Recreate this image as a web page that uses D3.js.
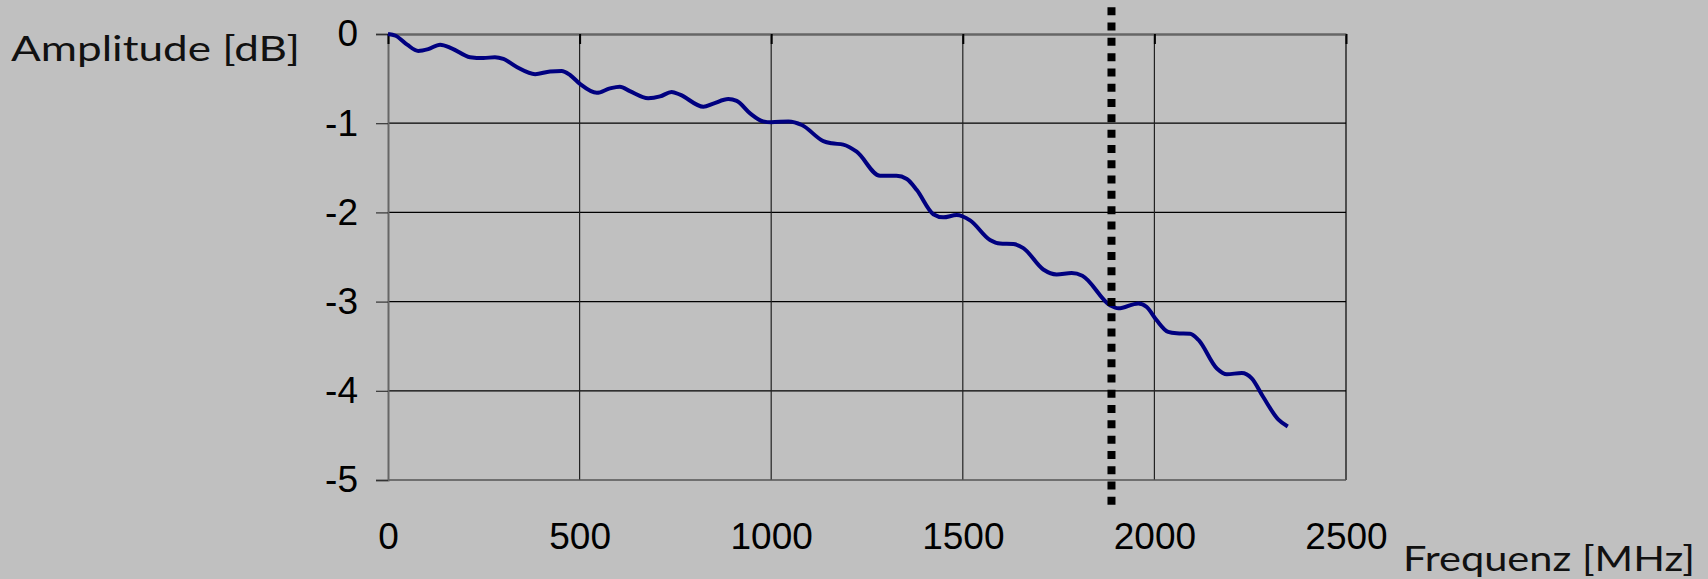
<!DOCTYPE html>
<html>
<head>
<meta charset="utf-8">
<script src="https://cdn.jsdelivr.net/npm/d3@7"></script>
<style>
  html, body { margin: 0; padding: 0; background: #c0c0c0; }
  svg { display: block; }
  .tick text { font-family: "Liberation Sans", Arial, sans-serif; font-size: 37px; fill: #000; }
  .title { font-family: "Lato", "DejaVu Sans", sans-serif; font-size: 35px; fill: #111; }
</style>
</head>
<body>
<svg id="chart" width="1708" height="579"></svg>
<script>
var freq = [0, 20, 50, 79, 105, 136, 166, 214, 249, 279, 301, 336, 384, 423, 453, 475,
            501, 545, 579, 605, 631, 679, 710, 740, 762, 823, 849, 888, 910, 945, 979,
            1000, 1045, 1080, 1136, 1158, 1188, 1223, 1284, 1327, 1354, 1380, 1423, 1449,
            1484, 1519, 1571, 1597, 1632, 1658, 1710, 1745, 1784, 1812, 1884, 1906, 1958,
            1980, 2006, 2036, 2058, 2093, 2115, 2163, 2189, 2228, 2254, 2284, 2323, 2348];
var amp = [0, -0.02, -0.12, -0.19, -0.17, -0.12, -0.16, -0.26, -0.27, -0.26, -0.28, -0.37,
           -0.45, -0.42, -0.415, -0.46, -0.56, -0.66, -0.61, -0.59, -0.64, -0.72, -0.70,
           -0.65, -0.68, -0.815, -0.78, -0.73, -0.75, -0.89, -0.98, -0.99, -0.98, -1.02,
           -1.20, -1.225, -1.24, -1.32, -1.59, -1.59, -1.625, -1.75, -2.02, -2.055, -2.03,
           -2.09, -2.31, -2.35, -2.355, -2.40, -2.64, -2.695, -2.68, -2.71, -3.04, -3.075,
           -3.02, -3.06, -3.21, -3.34, -3.355, -3.36, -3.43, -3.75, -3.815, -3.80, -3.86,
           -4.07, -4.32, -4.40];
var xTicks = [0, 500, 1000, 1500, 2000, 2500];
var yTicks = [0, -1, -2, -3, -4, -5];
var markerFreq = 1888;
var markerRange = [0.3, -5.3];

var svg = d3.select("#chart"),
    margin = {top: 34, right: 362, bottom: 99, left: 388},
    width = svg.attr("width") - margin.left - margin.right,
    height = svg.attr("height") - margin.top - margin.bottom;

var x = d3.scaleLinear().domain([0, 2500]).range([0, width]),
    y = d3.scaleLinear().domain([-5, 0]).range([height, 0]);

var g = svg.append("g")
    .attr("transform", "translate(" + margin.left + "," + margin.top + ")");

// horizontal grid
g.append("g")
  .selectAll("line")
  .data(yTicks.slice(1, 5))
  .enter().append("line")
    .attr("x1", 0).attr("x2", width)
    .attr("y1", function(d) { return y(d); })
    .attr("y2", function(d) { return y(d); })
    .attr("stroke", "#000").attr("stroke-width", 1.2);

// vertical grid
g.append("g")
  .selectAll("line")
  .data(xTicks.slice(1, 5))
  .enter().append("line")
    .attr("x1", function(d) { return x(d); })
    .attr("x2", function(d) { return x(d); })
    .attr("y1", 0).attr("y2", height)
    .attr("stroke", "#222").attr("stroke-width", 1.2);

// plot frame
g.append("line").attr("x1", width).attr("x2", width).attr("y1", 0).attr("y2", height)
  .attr("stroke", "#000").attr("stroke-width", 1.2);
g.append("line").attr("x1", 0).attr("x2", width).attr("y1", height).attr("y2", height)
  .attr("stroke", "#555").attr("stroke-width", 1.5);

// y axis
var yAxis = g.append("g")
    .call(d3.axisLeft(y).tickValues(yTicks).tickSize(12).tickPadding(18)
      .tickFormat(function(d) { return d === 0 ? "0" : "-" + Math.abs(d); }));
yAxis.select(".domain").attr("stroke", "#666").attr("stroke-width", 2);
yAxis.selectAll(".tick line").attr("stroke", "#333").attr("stroke-width", 1.2);

// x axis sits at 0 dB (top), labels at the bottom
var xAxis = g.append("g")
    .call(d3.axisBottom(x).tickValues(xTicks).tickSize(10).tickSizeOuter(0).tickFormat(""));
xAxis.select(".domain").attr("stroke", "#666").attr("stroke-width", 2.5);
xAxis.selectAll(".tick line").attr("stroke", "#000").attr("stroke-width", 2);

var xLab = g.append("g")
    .attr("transform", "translate(0," + height + ")")
    .call(d3.axisBottom(x).tickValues(xTicks).tickSize(0).tickPadding(43)
      .tickFormat(d3.format("d")));
xLab.select(".domain").remove();

// response curve
var pts = freq.map(function(f, i) { return [f, amp[i]]; });
var line = d3.line()
    .x(function(d) { return x(d[0]); })
    .y(function(d) { return y(d[1]); })
    .curve(d3.curveMonotoneX);

g.append("path")
    .datum(pts)
    .attr("fill", "none")
    .attr("stroke", "#000080")
    .attr("stroke-width", 4)
    .attr("stroke-linejoin", "round")
    .attr("d", line);

// dotted marker line
g.append("line")
    .attr("x1", x(markerFreq)).attr("x2", x(markerFreq))
    .attr("y1", y(markerRange[0])).attr("y2", y(markerRange[1]))
    .attr("stroke", "#000")
    .attr("stroke-width", 8)
    .attr("stroke-dasharray", "8,7.3");

// titles
svg.append("text")
    .attr("class", "title")
    .attr("x", 11).attr("y", 61)
    .attr("textLength", 289).attr("lengthAdjust", "spacingAndGlyphs")
    .text("Amplitude [dB]");

svg.append("text")
    .attr("class", "title")
    .attr("x", 1403).attr("y", 571)
    .attr("textLength", 292).attr("lengthAdjust", "spacingAndGlyphs")
    .text("Frequenz [MHz]");
</script>
</body>
</html>
